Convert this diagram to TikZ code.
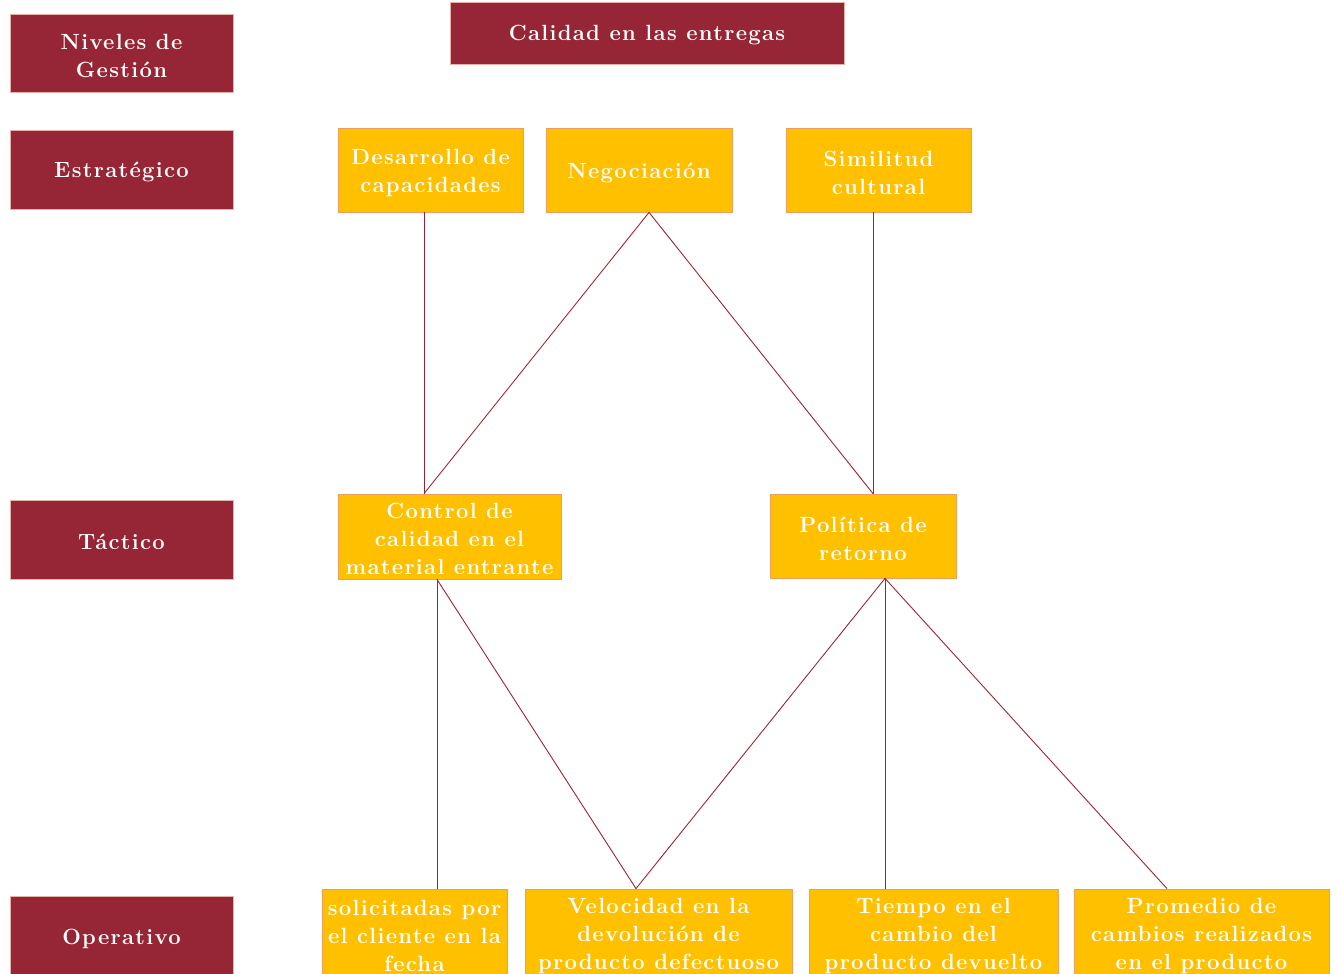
\documentclass[tikz,border=0pt]{standalone}
\usepackage{fontspec}
\setmainfont{Latin Modern Roman}[LetterSpace=6]
\definecolor{maroon}{HTML}{962636}
\definecolor{gold}{HTML}{FFC000}
\definecolor{edge}{HTML}{E6B3A8}
\definecolor{gedge}{HTML}{E8A060}
\tikzset{
  lbl/.style={align=center, font=\fontsize{22}{28}\selectfont\bfseries, text=white, inner sep=0pt},
  txt/.style={lbl, yshift=-2.5pt},
  mbox/.style={inner sep=0pt, fill=maroon, draw=edge, line width=0.8pt},
  gbox/.style={inner sep=0pt, fill=gold, draw=gedge, line width=0.8pt},
  link/.style={draw=maroon, line width=0.9pt}
}
\begin{document}
\begin{tikzpicture}[x=1pt,y=-1pt]
\useasboundingbox (0,0) rectangle (1336,974);
% levels
\node[mbox, minimum width=223pt, minimum height=78pt, label={[txt]center:{Niveles de\\Gestión}}] (niv) at (121.5,53) {};
\node[mbox, minimum width=223pt, minimum height=79pt, label={[txt]center:{Estratégico}}] (est) at (121.5,169.5) {};
\node[mbox, minimum width=223pt, minimum height=79pt, label={[txt]center:{Táctico}}] (tac) at (121.5,539.5) {};
\node[mbox, minimum width=223pt, minimum height=80pt, label={[txt]center:{Operativo}}] (ope) at (121.5,936) {};
% title
\node[mbox, minimum width=394pt, minimum height=62pt, label={[txt]center:{Calidad en las entregas}}] (cal) at (647,33) {};
% strategic
\node[gbox, minimum width=185pt, minimum height=84pt, label={[txt]center:{Desarrollo de\\capacidades}}] (des) at (430.5,170) {};
\node[gbox, minimum width=186pt, minimum height=84pt, label={[txt]center:{Negociación}}] (neg) at (639,170) {};
\node[gbox, minimum width=185pt, minimum height=84pt, label={[txt]center:{Similitud\\cultural}}] (sim) at (878.5,170) {};
% tactical
\node[gbox, minimum width=223pt, minimum height=85pt, label={[txt]center:{Control de\\calidad en el\\material entrante}}] (ctl) at (449.5,536.5) {};
\node[gbox, minimum width=186pt, minimum height=84pt, label={[txt]center:{Política de\\retorno}}] (pol) at (863,536) {};
% operative
\node[gbox, minimum width=185pt, minimum height=88pt, label={[txt]center:{solicitadas por\\el cliente en la\\fecha}}] (sol) at (414.5,933) {};
\node[gbox, minimum width=267pt, minimum height=88pt, label={[txt]center:{Velocidad en la\\devolución de\\producto defectuoso}}] (vel) at (658.5,933) {};
\node[gbox, minimum width=249pt, minimum height=88pt, label={[txt]center:{Tiempo en el\\cambio del\\producto devuelto}}] (tie) at (933.5,933) {};
\node[gbox, minimum width=255pt, minimum height=88pt, label={[txt]center:{Promedio de\\cambios realizados\\en el producto}}] (pro) at (1201.5,933) {};
% links
\draw[link] ([xshift=-6.5pt]des.south) -- ([xshift=-25.5pt]ctl.north);
\draw[link] ([xshift=10pt]neg.south) -- ([xshift=-25.5pt]ctl.north);
\draw[link] ([xshift=10pt]neg.south) -- ([xshift=10pt]pol.north);
\draw[link] ([xshift=-5.5pt]sim.south) -- ([xshift=10pt]pol.north);
\draw[link] ([xshift=-12.5pt]ctl.south) -- ([xshift=22.5pt]sol.north);
\draw[link] ([xshift=-12.5pt]ctl.south) -- ([xshift=-22.5pt]vel.north);
\draw[link] ([xshift=22pt]pol.south) -- ([xshift=-22.5pt]vel.north);
\draw[link] ([xshift=22pt]pol.south) -- ([xshift=-48.5pt]tie.north);
\draw[link] ([xshift=22pt]pol.south) -- ([xshift=-34.5pt]pro.north);
\end{tikzpicture}
\end{document}
